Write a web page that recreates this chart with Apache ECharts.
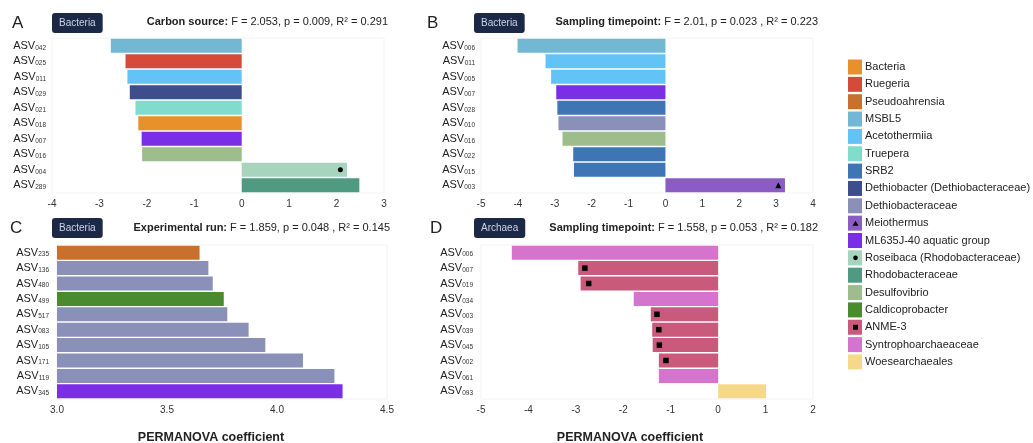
<!DOCTYPE html>
<html>
<head>
<meta charset="utf-8">
<script src="https://cdn.jsdelivr.net/npm/echarts@6/dist/echarts.min.js"></script>
<style>html,body{margin:0;padding:0;background:#fff;}#c{width:1033px;height:443px;}</style>
</head>
<body>
<div id="c"></div>
<script>
// ---------- data ----------
const taxa = ['Bacteria','Ruegeria','Pseudoahrensia','MSBL5','Acetothermiia','Truepera','SRB2',
  'Dethiobacter (Dethiobacteraceae)','Dethiobacteraceae','Meiothermus','ML635J-40 aquatic group',
  'Roseibaca (Rhodobacteraceae)','Rhodobacteraceae','Desulfovibrio','Caldicoprobacter','ANME-3',
  'Syntrophoarchaeaceae','Woesearchaeales'];
const taxaColors = ['#e8902a','#d64a3a','#c8702e','#72b8d2','#63c3f7','#80dccb','#3f74b5',
  '#3e4d8c','#8a90b8','#8b5cc4','#7a2ee6','#a6d4bd','#4e9b82','#9dbd8c','#4b8b2f','#c95a7c',
  '#d474cc','#f5d88a'];

const A_cats = ['ASV042','ASV025','ASV011','ASV029','ASV021','ASV018','ASV007','ASV016','ASV004','ASV289'];
const A_vals = [-2.76,-2.45,-2.41,-2.36,-2.24,-2.18,-2.11,-2.10,2.22,2.48];
const A_taxa = ['MSBL5','Ruegeria','Acetothermiia','Dethiobacter (Dethiobacteraceae)','Truepera','Bacteria',
  'ML635J-40 aquatic group','Desulfovibrio','Roseibaca (Rhodobacteraceae)','Rhodobacteraceae'];
const A_markCats = ['ASV004'];
const A_markVals = [2.08];

const B_cats = ['ASV006','ASV011','ASV005','ASV007','ASV028','ASV010','ASV016','ASV022','ASV015','ASV003'];
const B_vals = [-4.01,-3.25,-3.10,-2.96,-2.93,-2.90,-2.79,-2.50,-2.48,3.24];
const B_taxa = ['MSBL5','Acetothermiia','Acetothermiia','ML635J-40 aquatic group','SRB2','Dethiobacteraceae',
  'Desulfovibrio','SRB2','SRB2','Meiothermus'];
const B_markCats = ['ASV003'];
const B_markVals = [3.06];

const C_cats = ['ASV235','ASV136','ASV480','ASV499','ASV517','ASV083','ASV105','ASV171','ASV119','ASV345'];
const C_vals = [3.648,3.688,3.708,3.758,3.774,3.871,3.947,4.118,4.261,4.298];
const C_taxa = ['Pseudoahrensia','Dethiobacteraceae','Dethiobacteraceae','Caldicoprobacter','Dethiobacteraceae',
  'Dethiobacteraceae','Dethiobacteraceae','Dethiobacteraceae','Dethiobacteraceae','ML635J-40 aquatic group'];

const D_cats = ['ASV006','ASV007','ASV019','ASV034','ASV003','ASV039','ASV045','ASV002','ASV061','ASV093'];
const D_vals = [-4.35,-2.95,-2.90,-1.78,-1.42,-1.39,-1.38,-1.25,-1.25,1.01];
const D_taxa = ['Syntrophoarchaeaceae','ANME-3','ANME-3','Syntrophoarchaeaceae','ANME-3','ANME-3','ANME-3',
  'ANME-3','Syntrophoarchaeaceae','Woesearchaeales'];
const D_markCats = ['ASV007','ASV019','ASV003','ASV039','ASV045','ASV002'];
const D_markVals = [-2.81,-2.73,-1.29,-1.25,-1.24,-1.10];

const panelLetters = ['A','B','C','D'];
const panelGroups = ['Bacteria','Bacteria','Bacteria','Archaea'];
const panelFactors = ['Carbon source:','Sampling timepoint:','Experimental run:','Sampling timepoint:'];
const panelStats = [' F = 2.053, p = 0.009, R\u00b2 = 0.291',' F = 2.01, p = 0.023 , R\u00b2 = 0.223',
  ' F = 1.859, p = 0.048 , R\u00b2 = 0.145',' F = 1.558, p = 0.053 , R\u00b2 = 0.182'];
const axisRanges = [[-4,3,1],[-5,4,1],[3,4.5,0.5],[-5,2,1]];
const xAxisTitle = 'PERMANOVA coefficient';

// ---------- build ----------
const colorOf = t => taxaColors[taxa.indexOf(t)];
const FONT = 'Liberation Sans, Arial, sans-serif';
const grids = [
  {left:52, top:38, width:332, height:155},
  {left:481, top:38, width:332, height:155},
  {left:57, top:245, width:330, height:154},
  {left:481, top:245, width:332, height:154}
];
const catsList = [A_cats,B_cats,C_cats,D_cats];
const valsList = [A_vals,B_vals,C_vals,D_vals];
const taxaList = [A_taxa,B_taxa,C_taxa,D_taxa];
const labelMargins = [6,6,8,8];

const xAxes = axisRanges.map((r,i)=>({
  type:'value', gridIndex:i, min:r[0], max:r[1], interval:r[2],
  axisLine:{show:false}, axisTick:{show:false}, splitLine:{show:false},
  axisLabel:{fontFamily:FONT, fontSize:10, color:'#333', margin:6,
    formatter: i===2 ? (v=>v.toFixed(1)) : (v=>String(v))},
  name: i>=2 ? xAxisTitle : '', nameLocation:'middle', nameGap:32,
  nameTextStyle:{fontFamily:FONT, fontSize:12.5, fontWeight:'bold', color:'#222',
    padding: i===2 ? [0,22,0,0] : [0,34,0,0]}
}));
const yAxes = catsList.map((c,i)=>({
  type:'category', gridIndex:i, data:c, inverse:true,
  axisLine:{show:false}, axisTick:{show:false}, splitLine:{show:false},
  axisLabel:{interval:0, margin:labelMargins[i], formatter:v=>'{a|ASV}{s|'+v.slice(3)+'}',
    rich:{a:{fontFamily:FONT, fontSize:11, color:'#222'},
          s:{fontFamily:FONT, fontSize:6.5, color:'#333', verticalAlign:'bottom', padding:[4,0,0,0]}}}
}));

const series = [];
valsList.forEach((vals,i)=>{
  series.push({type:'bar', name:'panel'+i, xAxisIndex:i, yAxisIndex:i, barCategoryGap:'9%',
    data: vals.map((v,k)=>({value:v, itemStyle:{color:colorOf(taxaList[i][k])}})),
    silent:true});
});
const marks = [[A_markCats,A_markVals,0,'circle',5],[B_markCats,B_markVals,1,'triangle',6],[D_markCats,D_markVals,3,'rect',5.5]];
marks.forEach(m=>{
  series.push({type:'scatter', name:'mark'+m[2], xAxisIndex:m[2], yAxisIndex:m[2],
    symbol:m[3], symbolSize:m[4], itemStyle:{color:'#000', opacity:1}, z:5, silent:true,
    data:m[0].map((c,k)=>[m[1][k], c])});
});
taxa.forEach((t,k)=>{
  series.push({type:'scatter', name:t, xAxisIndex:0, yAxisIndex:0, data:[], itemStyle:{color:taxaColors[k], opacity:1}});
});

const titles = [];
const letterPos = [[12,15],[427,15],[10,220],[430,220]];
const badgePos = [[52,13],[474,13],[52,218],[474,218]];
const statRight = [645,215,643,215];
const statTop = [16,16,222,222];
for(let i=0;i<4;i++){
  titles.push({text:panelLetters[i], left:letterPos[i][0], top:letterPos[i][1],
    textStyle:{fontFamily:FONT, fontSize:17, fontWeight:'normal', color:'#222'}, padding:0});
  titles.push({text:panelGroups[i], left:badgePos[i][0], top:badgePos[i][1],
    backgroundColor:'#1c2946', borderRadius:3, padding:[5,7,5,7],
    textStyle:{fontFamily:FONT, fontSize:10, fontWeight:'normal', color:'#c9d4e8'}});
  titles.push({text:'{b|'+panelFactors[i]+'}'+panelStats[i], right:statRight[i], top:statTop[i], padding:0,
    textStyle:{fontFamily:FONT, fontSize:11, fontWeight:'normal', color:'#222',
      rich:{b:{fontFamily:FONT, fontSize:11, fontWeight:'bold', color:'#222'}}}});
}

const LEG_TOP = 59.5, LEG_STEP = 17.35, LEG_X = 855.5;
const yOf = name => LEG_TOP + taxa.indexOf(name)*LEG_STEP + 7.5;
const option = {
  backgroundColor:'#fff',
  animation:false,
  title:titles,
  grid:grids.map(g=>Object.assign({show:true, borderColor:'#f3f3f3', borderWidth:1, backgroundColor:'#fff',
    containLabel:false, outerBoundsMode:'none'},g)),
  xAxis:xAxes, yAxis:yAxes, series:series,
  legend:{orient:'vertical', left:848, top:LEG_TOP, padding:0, itemWidth:14, itemHeight:15, itemGap:LEG_STEP-15,
    icon:'rect', data:taxa, selectedMode:false,
    textStyle:{fontFamily:FONT, fontSize:11, color:'#222', padding:[0,0,0,-2]}},
  graphic:[
    {type:'polygon', shape:{points:[[LEG_X,yOf('Meiothermus')-2.5],[LEG_X-3,yOf('Meiothermus')+2.5],[LEG_X+3,yOf('Meiothermus')+2.5]]}, style:{fill:'#000'}, z:100},
    {type:'circle', shape:{cx:LEG_X, cy:yOf('Roseibaca (Rhodobacteraceae)'), r:2.3}, style:{fill:'#000'}, z:100},
    {type:'rect', shape:{x:LEG_X-2.5, y:yOf('ANME-3')-2.5, width:5, height:5}, style:{fill:'#000'}, z:100}
  ]
};
const chart = echarts.init(document.getElementById('c'), null, {renderer:'canvas'});
chart.setOption(option);
</script>
</body>
</html>
